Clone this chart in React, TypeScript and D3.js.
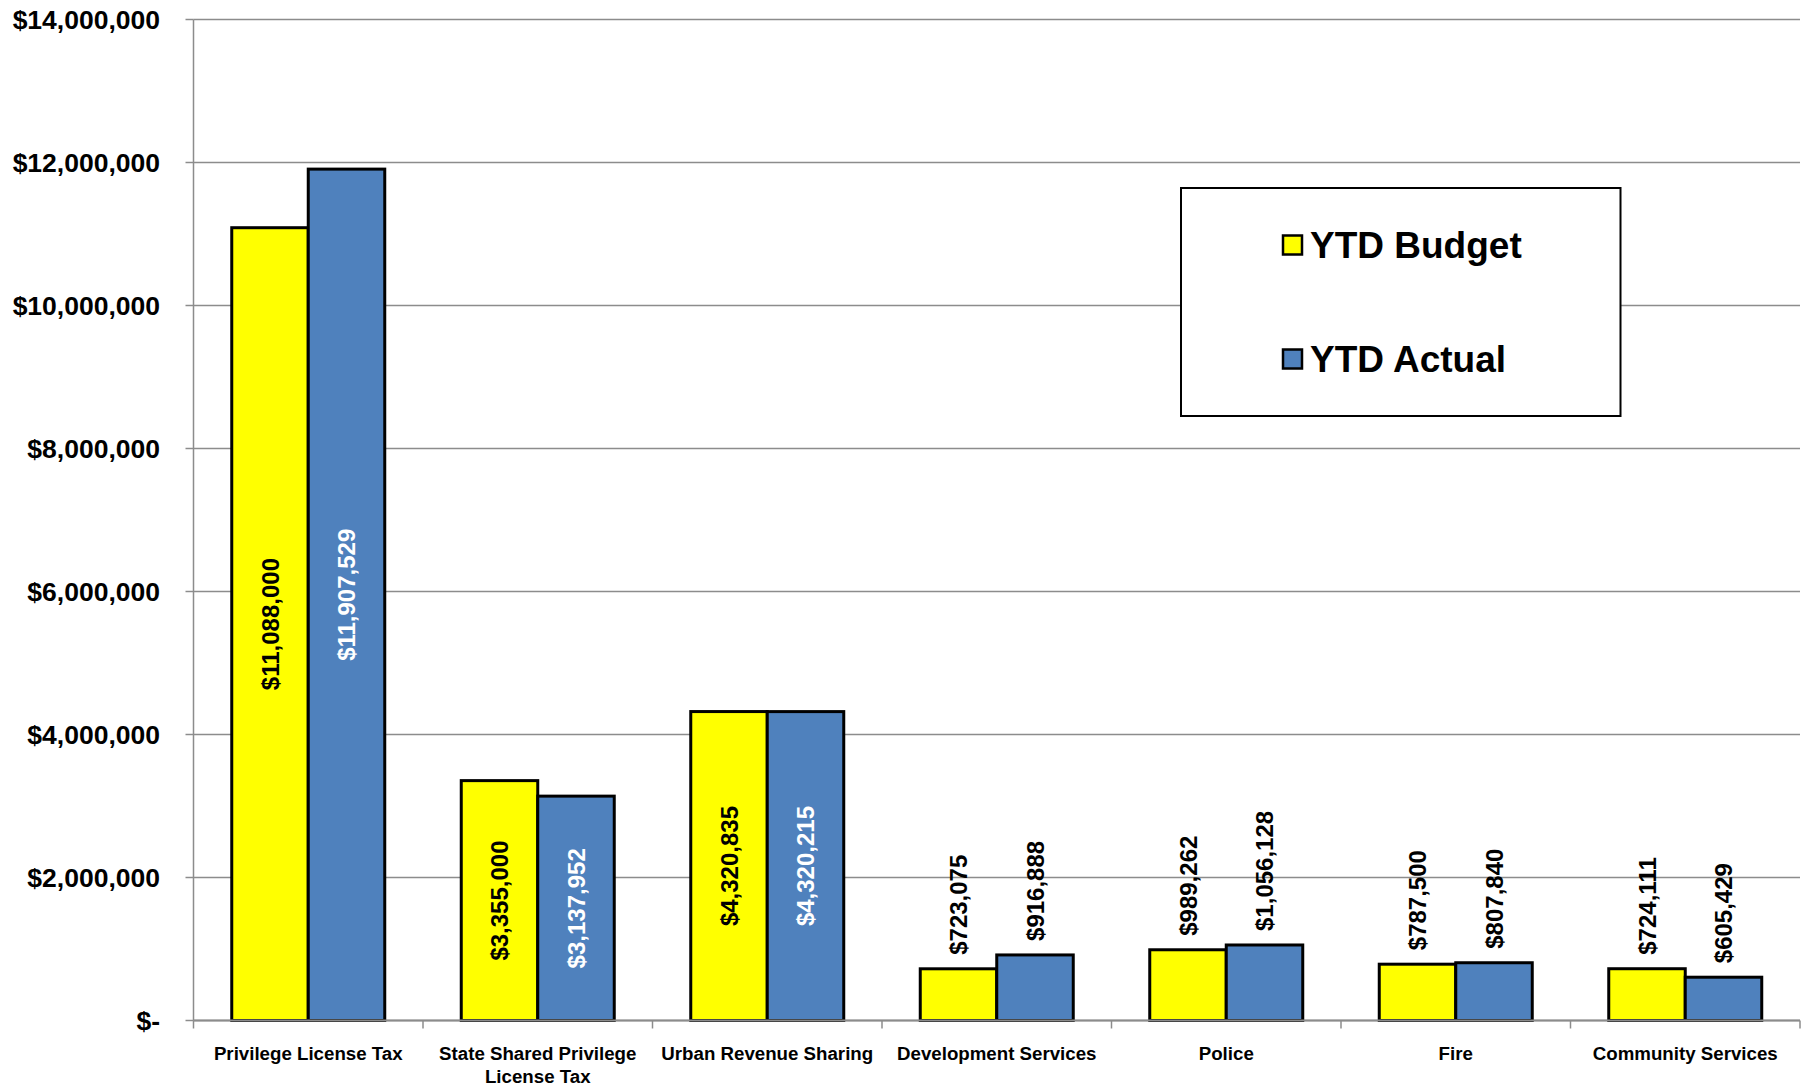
import React from "react";
import * as d3 from "d3";

const categories: string[][] = [
  ["Privilege License Tax"],
  ["State Shared Privilege", "License Tax"],
  ["Urban Revenue Sharing"],
  ["Development Services"],
  ["Police"],
  ["Fire"],
  ["Community Services"],
];
const budget = [11088000, 3355000, 4320835, 723075, 989262, 787500, 724111];
const actual = [11907529, 3137952, 4320215, 916888, 1056128, 807840, 605429];
const seriesNames = ["YTD Budget", "YTD Actual"];
const seriesColors = ["#FFFF00", "#4F81BD"];
const labelColorsInside = ["#000000", "#FFFFFF"];
const yTicks = [0, 2000000, 4000000, 6000000, 8000000, 10000000, 12000000, 14000000];

const W = 1806;
const H = 1087;
const M = { left: 193.5, right: 6, top: 19.5, bottom: 66.5 };
const FONT = "'Liberation Sans', Arial, Helvetica, sans-serif";

export default function App() {
  const x0 = d3
    .scaleBand<number>()
    .domain(categories.map((_, i) => i))
    .range([M.left, W - M.right])
    .paddingInner(0)
    .paddingOuter(0);
  const x1 = d3
    .scaleBand<number>()
    .domain([0, 1])
    .range([0, x0.bandwidth()])
    .paddingInner(0)
    .paddingOuter(0.5);
  const y = d3.scaleLinear().domain([0, 14000000]).range([H - M.bottom, M.top]);
  const fmt = (v: number) => (v === 0 ? "$-" : "$" + d3.format(",")(Math.round(v)));
  const data = [budget, actual];
  const labelFont = 24;

  return (
    <div style={{ position: "absolute", left: 0, top: 0 }}>
      <svg width={W} height={H} style={{ display: "block", background: "#fff" }}>
        {/* gridlines */}
        {yTicks.map((t) => (
          <g key={t}>
            <line x1={M.left} x2={W - M.right} y1={y(t)} y2={y(t)} stroke="#8c8c8c" strokeWidth={1.5} />
            <line x1={M.left - 8} x2={M.left} y1={y(t)} y2={y(t)} stroke="#8c8c8c" strokeWidth={1.5} />
            <text
              x={160}
              y={y(t)}
              textAnchor="end"
              dominantBaseline="central"
              fontFamily={FONT}
              fontWeight="bold"
              fontSize={26.5}
              fill="#000"
            >
              {fmt(t)}
            </text>
          </g>
        ))}
        {/* y axis */}
        <line x1={M.left} x2={M.left} y1={M.top} y2={y(0)} stroke="#8c8c8c" strokeWidth={1.5} />
        {/* category ticks */}
        {d3.range(categories.length + 1).map((i) => {
          const xx = i < categories.length ? (x0(i) as number) : W - M.right;
          return <line key={i} x1={xx} x2={xx} y1={y(0)} y2={y(0) + 8} stroke="#8c8c8c" strokeWidth={1.5} />;
        })}
        {/* bars */}
        {categories.map((_, ci) =>
          data.map((s, si) => {
            const bx = (x0(ci) as number) + (x1(si) as number);
            const bw = x1.bandwidth();
            const by = y(s[ci]);
            const bh = y(0) - by;
            return (
              <rect
                key={`${ci}-${si}`}
                x={bx}
                y={by}
                width={bw}
                height={bh}
                fill={seriesColors[si]}
                stroke="#000"
                strokeWidth={3}
              />
            );
          })
        )}
        <line x1={M.left} x2={W - M.right} y1={y(0)} y2={y(0)} stroke="#8c8c8c" strokeWidth={2} />
        {/* value labels */}
        {categories.map((_, ci) =>
          data.map((s, si) => {
            const cx = (x0(ci) as number) + (x1(si) as number) + x1.bandwidth() / 2;
            const by = y(s[ci]);
            const bh = y(0) - by;
            const inside = bh > 200;
            if (inside) {
              const cy = by + bh / 2;
              return (
                <text
                  key={`l-${ci}-${si}`}
                  transform={`translate(${cx},${cy}) rotate(-90)`}
                  textAnchor="middle"
                  dominantBaseline="central"
                  fontFamily={FONT}
                  fontWeight="bold"
                  fontSize={labelFont}
                  fill={labelColorsInside[si]}
                >
                  {fmt(s[ci])}
                </text>
              );
            }
            return (
              <text
                key={`l-${ci}-${si}`}
                transform={`translate(${cx},${by - 14}) rotate(-90)`}
                textAnchor="start"
                dominantBaseline="central"
                fontFamily={FONT}
                fontWeight="bold"
                fontSize={labelFont}
                fill="#000"
              >
                {fmt(s[ci])}
              </text>
            );
          })
        )}
        {/* category labels */}
        {categories.map((lines, ci) => {
          const cx = (x0(ci) as number) + x0.bandwidth() / 2;
          return (
            <text
              key={`c-${ci}`}
              x={cx}
              y={1060}
              textAnchor="middle"
              fontFamily={FONT}
              fontWeight="bold"
              fontSize={18.7}
              fill="#000"
            >
              {lines.map((ln, li) => (
                <tspan key={li} x={cx} dy={li === 0 ? 0 : 23}>
                  {ln}
                </tspan>
              ))}
            </text>
          );
        })}
        {/* legend */}
        <rect x={1181} y={188} width={439.5} height={228} fill="#fff" stroke="#000" strokeWidth={2} />
        {seriesNames.map((n, i) => {
          const cy = i === 0 ? 245 : 359;
          return (
            <g key={n}>
              <rect x={1283} y={cy - 9.5} width={19} height={19} fill={seriesColors[i]} stroke="#000" strokeWidth={2.5} />
              <text
                x={1310}
                y={cy}
                dominantBaseline="central"
                fontFamily={FONT}
                fontWeight="bold"
                fontSize={37}
                fill="#000"
              >
                {n}
              </text>
            </g>
          );
        })}
      </svg>
    </div>
  );
}
